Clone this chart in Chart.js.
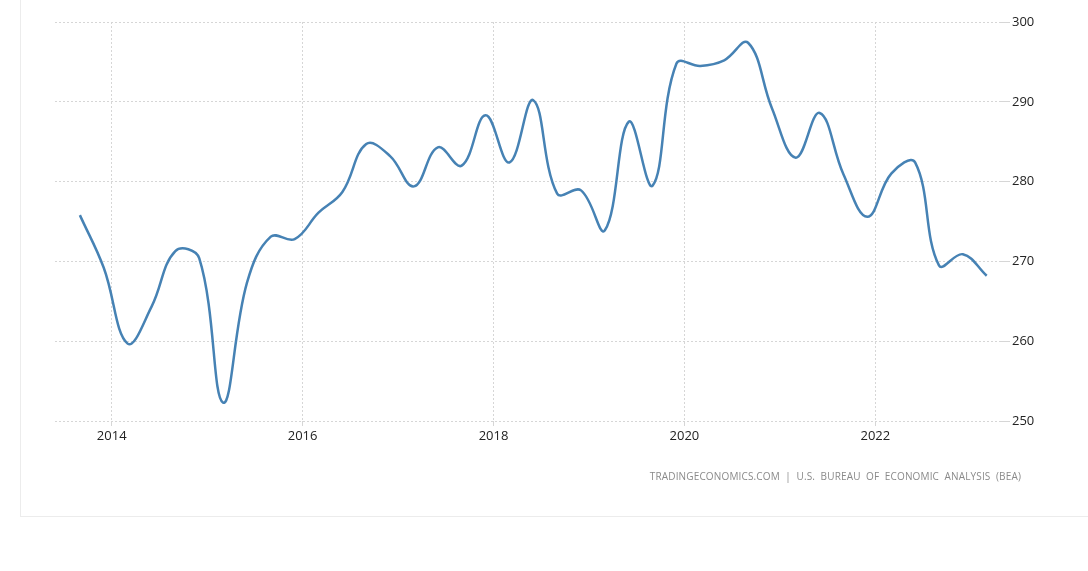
<!DOCTYPE html>
<html>
<head>
<meta charset="utf-8">
<script src="https://cdn.jsdelivr.net/npm/chart.js@4.4.1/dist/chart.umd.min.js"></script>
<style>
  html, body { margin: 0; padding: 0; background: #fff; }
  body { width: 1088px; height: 571px; position: relative; overflow: hidden; }
  #frame {
    position: absolute; left: 20px; top: -2px; width: 1080px; height: 518px;
    border-left: 1px solid #ececec; border-bottom: 1px solid #ececec;
  }
  #chart { position: absolute; left: 0; top: 0; }
  #source {
    position: absolute; right: 67px; top: 469px;
    font: 10px "Open Sans", sans-serif; letter-spacing: 0.15px;
    color: #8a8a8a; white-space: nowrap;
  }
</style>
</head>
<body>
<div id="frame"></div>
<canvas id="chart" width="1088" height="571"></canvas>
<div id="source">TRADINGECONOMICS.COM&nbsp; | &nbsp;U.S.&nbsp; BUREAU&nbsp; OF&nbsp; ECONOMIC&nbsp; ANALYSIS&nbsp; (BEA)</div>
<script>
// quarter (year-month of last month in quarter)
var quarters = [
  '2013-09','2013-12','2014-03','2014-06','2014-09','2014-12','2015-03','2015-06',
  '2015-09','2015-12','2016-03','2016-06','2016-09','2016-12','2017-03','2017-06',
  '2017-09','2017-12','2018-03','2018-06','2018-09','2018-12','2019-03','2019-06',
  '2019-09','2019-12','2020-03','2020-06','2020-09','2020-12','2021-03','2021-06',
  '2021-09','2021-12','2022-03','2022-06','2022-09','2022-12','2023-03'
];
var values = [
  275.8, 269.2, 259.7, 264.3, 271.3, 270.4, 252.3, 267.3,
  273.1, 272.8, 276.1, 278.7, 284.7, 283.2, 279.4, 284.3,
  282.0, 288.3, 282.4, 290.2, 278.5, 278.9, 273.9, 287.5,
  279.5, 294.8, 294.5, 295.2, 297.4, 289.2, 283.0, 288.6,
  280.9, 275.6, 281.0, 282.4, 269.5, 270.9, 268.2
];
var xTickYears = [2014, 2016, 2018, 2020, 2022];
var yTicks = [250, 260, 270, 280, 290, 300];

function toYear(q) {
  var p = q.split('-');
  return parseInt(p[0], 10) + (parseInt(p[1], 10) - 1) / 12;
}

var points = quarters.map(function (q, i) {
  return { x: toYear(q), y: values[i] };
});

var gridColor = '#d6d6d6';
var labelFont = { family: '"Open Sans", sans-serif', size: 13 };

new Chart(document.getElementById('chart'), {
  type: 'line',
  data: {
    datasets: [{
      data: points,
      borderColor: '#4682b4',
      borderWidth: 2.5,
      pointRadius: 0,
      tension: 0.4,
      fill: false
    }]
  },
  options: {
    responsive: false,
    animation: false,
    devicePixelRatio: 1,
    layout: { padding: { left: 55, top: 22, right: 0, bottom: 0 } },
    plugins: { legend: { display: false }, tooltip: { enabled: false } },
    scales: {
      x: {
        type: 'linear',
        min: 2013.406,
        max: 2023.306,
        afterBuildTicks: function (s) {
          s.ticks = xTickYears.map(function (v) { return { value: v }; });
        },
        afterFit: function (s) { s.height = 150; },
        grid: { color: gridColor, tickColor: gridColor, tickLength: 5, lineWidth: 1 },
        border: { display: false, dash: [2, 2] },
        ticks: {
          color: '#222',
          font: labelFont,
          padding: 2,
          maxRotation: 0,
          autoSkip: false,
          callback: function (v) { return String(v); }
        }
      },
      y: {
        position: 'right',
        min: 250,
        max: 300,
        afterBuildTicks: function (s) {
          s.ticks = yTicks.map(function (v) { return { value: v }; });
        },
        afterFit: function (s) { s.width = 88; },
        grid: { color: gridColor, tickColor: gridColor, tickLength: 10, lineWidth: 1 },
        border: { display: false, dash: [2, 2] },
        ticks: {
          color: '#222',
          font: labelFont,
          padding: 2,
          callback: function (v) { return String(v); }
        }
      }
    }
  }
});
</script>
</body>
</html>
